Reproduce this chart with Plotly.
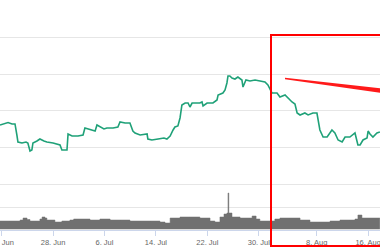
import plotly.graph_objects as go

# ---- data ----
price_dates = [
    "2018-06-19 18:00", "2018-06-20 05:00", "2018-06-21 00:00", "2018-06-21 15:00", "2018-06-22 02:00",
    "2018-06-22 09:00", "2018-06-22 13:00", "2018-06-23 04:00", "2018-06-23 19:00", "2018-06-24 02:00",
    "2018-06-24 10:00", "2018-06-24 17:00", "2018-06-24 21:00", "2018-06-25 12:00", "2018-06-25 23:00",
    "2018-06-26 14:00", "2018-06-27 01:00", "2018-06-28 00:00", "2018-06-28 18:00", "2018-06-29 02:00",
    "2018-06-29 09:00", "2018-06-29 21:00", "2018-06-30 04:00", "2018-06-30 08:00", "2018-06-30 23:00",
    "2018-07-01 21:00", "2018-07-02 16:00", "2018-07-02 23:00", "2018-07-03 10:00", "2018-07-03 18:00",
    "2018-07-04 13:00", "2018-07-04 20:00", "2018-07-05 07:00", "2018-07-05 22:00", "2018-07-06 09:00",
    "2018-07-07 08:00", "2018-07-08 02:00", "2018-07-08 10:00", "2018-07-09 05:00", "2018-07-09 23:00",
    "2018-07-10 10:00", "2018-07-10 18:00", "2018-07-11 13:00", "2018-07-12 15:00", "2018-07-12 18:00",
    "2018-07-13 09:00", "2018-07-14 08:00", "2018-07-15 06:00", "2018-07-15 17:00", "2018-07-16 05:00",
    "2018-07-16 16:00", "2018-07-16 23:00", "2018-07-17 10:00", "2018-07-17 18:00", "2018-07-18 01:00",
    "2018-07-18 13:00", "2018-07-19 00:00", "2018-07-19 07:00", "2018-07-19 15:00", "2018-07-20 06:00",
    "2018-07-20 20:00", "2018-07-21 04:00", "2018-07-21 08:00", "2018-07-21 23:00", "2018-07-22 21:00",
    "2018-07-23 12:00", "2018-07-23 16:00", "2018-07-24 10:00", "2018-07-24 18:00", "2018-07-25 01:00",
    "2018-07-25 05:00", "2018-07-25 12:00", "2018-07-25 20:00", "2018-07-26 07:00", "2018-07-26 18:00",
    "2018-07-27 09:00", "2018-07-27 13:00", "2018-07-28 00:00", "2018-07-28 15:00", "2018-07-29 10:00",
    "2018-07-30 04:00", "2018-07-30 23:00", "2018-07-31 10:00", "2018-07-31 18:00", "2018-08-01 01:00",
    "2018-08-01 20:00", "2018-08-02 07:00", "2018-08-03 02:00", "2018-08-03 13:00", "2018-08-04 04:00",
    "2018-08-04 15:00", "2018-08-04 23:00", "2018-08-05 10:00", "2018-08-06 04:00", "2018-08-06 16:00",
    "2018-08-07 10:00", "2018-08-08 01:00", "2018-08-08 09:00", "2018-08-08 12:00", "2018-08-09 00:00",
    "2018-08-09 15:00", "2018-08-10 09:00", "2018-08-10 20:00", "2018-08-11 08:00", "2018-08-11 23:00",
    "2018-08-12 10:00", "2018-08-13 04:00", "2018-08-13 23:00", "2018-08-14 07:00", "2018-08-14 10:00",
    "2018-08-14 18:00", "2018-08-15 05:00", "2018-08-15 20:00", "2018-08-16 00:00", "2018-08-16 07:00",
    "2018-08-16 18:00", "2018-08-17 09:00", "2018-08-17 20:00",
]
price_values = [
    6612, 6640, 6681, 6640, 6640,
    6339, 6148, 6121, 6148, 6121,
    5902, 5929, 6121, 6175, 6230,
    6175, 6148, 6121, 6093, 6066,
    5929, 5929, 5929, 6366, 6312,
    6312, 6339, 6530, 6503, 6476,
    6448, 6612, 6558, 6503, 6530,
    6530, 6558, 6694, 6667, 6667,
    6448, 6394, 6339, 6366, 6230,
    6203, 6230, 6257, 6230, 6312,
    6476, 6558, 6585, 6804, 7159,
    7213, 7213, 7104, 7213, 7213,
    7213, 7241, 7131, 7213, 7213,
    7295, 7432, 7487, 7569, 7760,
    7951, 7951, 7896, 7869, 7924,
    7842, 7650, 7842, 7814, 7842,
    7814, 7787, 7705, 7569, 7487,
    7487, 7377, 7432, 7350, 7241,
    7186, 6940, 6886, 6940, 6886,
    6940, 6940, 6612, 6476, 6284,
    6284, 6476, 6394, 6203, 6148,
    6284, 6284, 6394, 6203, 6066,
    6066, 6203, 6257, 6448, 6366,
    6284, 6394, 6421,
]

volume_dates = [
    "2018-06-19 18:00", "2018-06-21 07:00", "2018-06-22 21:00", "2018-06-23 08:00", "2018-06-23 23:00",
    "2018-06-24 10:00", "2018-06-25 08:00", "2018-06-25 23:00", "2018-06-26 07:00", "2018-06-26 18:00",
    "2018-06-27 01:00", "2018-06-28 07:00", "2018-06-29 09:00", "2018-06-30 15:00", "2018-07-01 05:00",
    "2018-07-03 18:00", "2018-07-05 07:00", "2018-07-06 21:00", "2018-07-08 10:00", "2018-07-09 23:00",
    "2018-07-11 13:00", "2018-07-13 02:00", "2018-07-14 15:00", "2018-07-15 10:00", "2018-07-16 05:00",
    "2018-07-17 18:00", "2018-07-19 07:00", "2018-07-20 20:00", "2018-07-22 10:00", "2018-07-23 04:00",
    "2018-07-23 23:00", "2018-07-24 14:00", "2018-07-25 01:00", "2018-07-25 05:00", "2018-07-25 08:00",
    "2018-07-25 20:00", "2018-07-27 02:00", "2018-07-28 15:00", "2018-07-28 23:00", "2018-07-29 14:00",
    "2018-07-30 04:00", "2018-07-31 18:00", "2018-08-01 12:00", "2018-08-02 07:00", "2018-08-03 20:00",
    "2018-08-05 10:00", "2018-08-06 23:00", "2018-08-08 12:00", "2018-08-10 02:00", "2018-08-11 15:00",
    "2018-08-13 04:00", "2018-08-13 23:00", "2018-08-14 10:00", "2018-08-15 01:00", "2018-08-16 07:00",
    "2018-08-17 20:00",
]
volume_values = [
    3.78, 3.78, 4.22, 5.11, 4.44,
    3.78, 3.78, 4.67, 5.56, 5.11,
    4.22, 3.33, 3.78, 4.22, 4.67,
    4.22, 4.67, 4.22, 4.22, 3.78,
    3.78, 3.78, 3.33, 2.89, 5.11,
    5.56, 5.56, 5.11, 3.78, 3.33,
    5.56, 6.89, 7.33, 16.2, 7.33,
    5.56, 5.11, 5.11, 6.0, 4.67,
    3.78, 3.78, 4.67, 5.11, 5.11,
    4.22, 3.33, 3.33, 3.78, 4.22,
    4.22, 4.67, 6.44, 5.11, 5.11,
    5.11,
]

tick_dates = ["2018-06-20", "2018-06-28", "2018-07-06", "2018-07-14",
              "2018-07-22", "2018-07-30", "2018-08-08", "2018-08-16"]
tick_labels = ["20. Jun", "28. Jun", "6. Jul", "14. Jul",
               "22. Jul", "30. Jul", "8. Aug", "16. Aug"]
price_grid = [5000, 6000, 7000, 8000, 9000, 10000]
volume_grid = [10]

# ---- figure ----
fig = go.Figure()
fig.add_trace(go.Scatter(
    x=volume_dates, y=volume_values, yaxis="y2", mode="lines",
    line=dict(shape="hv", width=0.5, color="#707070"),
    fill="tozeroy", fillcolor="#707070", hoverinfo="skip", showlegend=False,
))
fig.add_trace(go.Scatter(
    x=price_dates, y=price_values, yaxis="y", mode="lines",
    line=dict(color="#1fa178", width=1.6), showlegend=False,
))

W, H = 380, 250


def px(x):
    return x / W


def py(y):
    return 1 - y / H


fig.update_layout(
    width=W, height=H,
    margin=dict(l=0, r=0, t=0, b=0, autoexpand=False),
    paper_bgcolor="white", plot_bgcolor="white",
    font=dict(family="Liberation Sans, Arial, sans-serif", size=7.5, color="#666666"),
    xaxis=dict(
        type="date", range=["2018-06-19 18:00", "2018-08-17 20:24"],
        anchor="y2", showgrid=False, zeroline=False, automargin=False,
        showline=True, linecolor="#ccd6eb", linewidth=1,
        ticks="outside", ticklen=5, tickcolor="#ccd6eb", tickwidth=1,
        tickmode="array", tickvals=tick_dates, ticktext=tick_labels,
        tickfont=dict(size=7.5, color="#666666"),
        ticklabeloverflow="allow",
    ),
    yaxis=dict(
        domain=[0.082, 1.0], range=[3757.4, 10027.3], automargin=False,
        tickmode="array", tickvals=price_grid, showticklabels=False,
        gridcolor="#e6e6e6", gridwidth=1, zeroline=False, showline=False,
    ),
    yaxis2=dict(
        domain=[0.082, 0.24], range=[0, 17.56], automargin=False,
        tickmode="array", tickvals=volume_grid, showticklabels=False,
        gridcolor="#e6e6e6", gridwidth=1, zeroline=False, showline=False,
    ),
    shapes=[
        dict(type="path", xref="paper", yref="paper",
             path=f"M {px(400)},{py(35)} L {px(271)},{py(35)} L {px(271)},{py(246)} L {px(400)},{py(246)}",
             line=dict(color="#ff0000", width=2)),
        dict(type="path", xref="paper", yref="paper",
             path=f"M {px(285)},{py(77.7)} L {px(382)},{py(88.5)} L {px(382)},{py(93)} L {px(285)},{py(79.3)} Z",
             fillcolor="#ff1a1a", line=dict(width=0)),
    ],
)

fig.write_html("out.html")
